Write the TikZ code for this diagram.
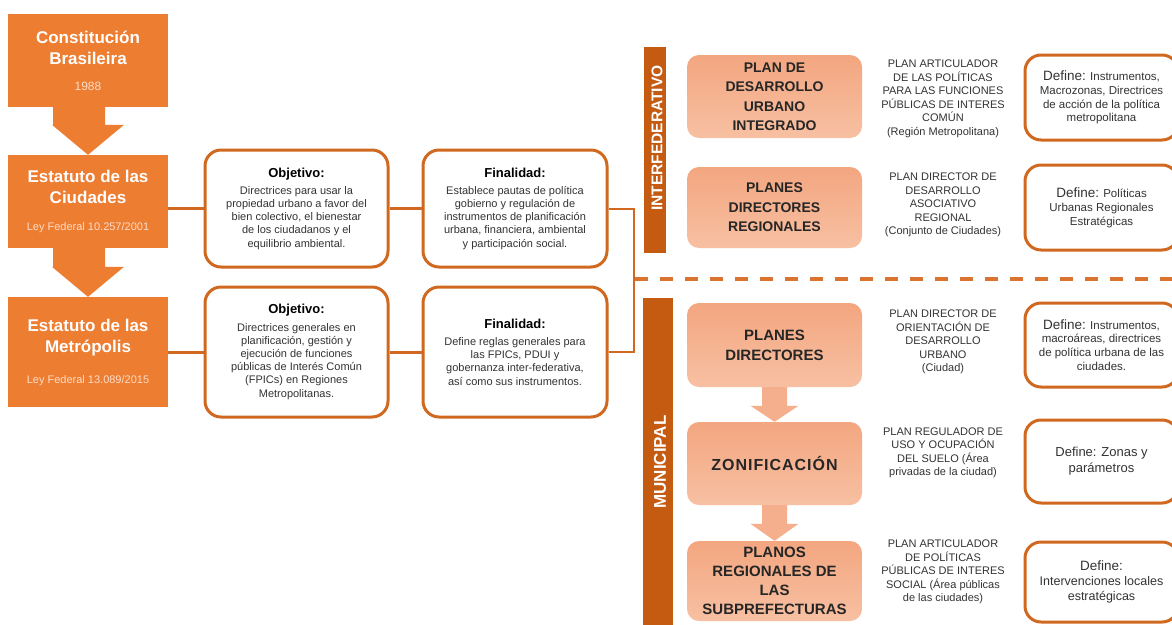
\documentclass[tikz,border=0pt]{standalone}
\usepackage{fontspec}
\setmainfont{Liberation Sans}
\usetikzlibrary{calc}

\definecolor{lawfill}{HTML}{ED7D31}
\definecolor{edge}{HTML}{D0691F}
\definecolor{bandfill}{HTML}{C55A11}
\definecolor{dashcol}{HTML}{DA7230}
\definecolor{peach}{HTML}{FBDCC8}
\definecolor{salmonTop}{HTML}{F3A680}
\definecolor{salmonBot}{HTML}{F7C0A2}
\definecolor{stepfill}{HTML}{F5AF8C}
\definecolor{bodytext}{HTML}{333333}

% block arrow between two stacked nodes:
% from, to, shaft left, shaft right, head half width, head length, colour
\newcommand{\blockarrow}[7]{%
  \fill[#7] ($(#1.south)+(#3,0)$) -- ($(#1.south)+(#4,0)$)
    -- ($(#2.north)+(#4,-#6)$) -- ($(#2.north)+(#5,-#6)$)
    -- (#2.north)
    -- ($(#2.north)+(-#5,-#6)$) -- ($(#2.north)+(#3,-#6)$) -- cycle;}

\tikzset{
  lawbox/.style={fill=lawfill, text=white, align=center, inner sep=0pt,
    minimum width=160, font=\fontsize{17}{21}\selectfont\bfseries},
  infobox/.style={draw=edge, line width=3pt, rounded corners=16pt, fill=white,
    align=center, inner sep=0pt, text=bodytext,
    font=\fontsize{11}{13.2}\selectfont},
  planbox/.style={rounded corners=12pt, top color=salmonTop, bottom color=salmonBot,
    align=center, inner sep=0pt, minimum width=175, text=black!85},
  desc/.style={align=center, inner sep=0pt, text=bodytext,
    font=\fontsize{11}{13.5}\selectfont},
  defbox/.style={infobox, minimum width=153, font=\fontsize{11.5}{13.8}\selectfont},
  band/.style={fill=bandfill, inner sep=0pt},
  bandtext/.style={text=white, rotate=90, inner sep=0pt},
  link/.style={draw=edge, line width=3pt},
  bracket/.style={draw=edge, line width=2pt},
}

\newcommand{\headA}[1]{{\color{black}\fontsize{13}{15}\selectfont\bfseries #1}}
\newcommand{\defword}{{\fontsize{13.5}{15}\selectfont Define:}}

\begin{document}
\begin{tikzpicture}[x=1pt,y=-1pt]
\useasboundingbox (0,0) rectangle (1172,624);
\fill[white] (0,0) rectangle (1172,624);

% ---------- legal framework column ----------
\node[lawbox, minimum height=93] (cons) at (88,60.5)
  {Constitución\\Brasileira\\[5pt]{\fontsize{12}{14}\selectfont\mdseries\color{peach}1988}};
\node[lawbox, minimum height=93] (city) at (88,201.5)
  {Estatuto de las\\Ciudades\\[6pt]{\fontsize{11}{13}\selectfont\mdseries\color{peach}Ley Federal 10.257/2001}};
\node[lawbox, minimum height=110] (metro) at (88,352)
  {Estatuto de las\\Metrópolis\\[10pt]{\fontsize{11}{13}\selectfont\mdseries\color{peach}Ley Federal 13.089/2015}};

\blockarrow{cons}{city}{-35}{17}{36}{30}{lawfill}
\blockarrow{city}{metro}{-35}{17}{36}{30}{lawfill}

% ---------- objectives and purposes ----------
\node[infobox, minimum width=183, minimum height=117] (obj1) at (296.5,208.5)
  {\headA{Objetivo:}\\[4pt]Directrices para usar la\\propiedad urbano a favor del\\bien colectivo, el bienestar\\de los ciudadanos y el\\equilibrio ambiental.};
\node[infobox, minimum width=184, minimum height=117] (fin1) at (515,208.5)
  {\headA{Finalidad:}\\[4pt]Establece pautas de política\\gobierno y regulación de\\instrumentos de planificación\\urbana, financiera, ambiental\\y participación social.};
\node[infobox, minimum width=183, minimum height=130] (obj2) at (296.5,352)
  {\headA{Objetivo:}\\[4pt]Directrices generales en\\planificación, gestión y\\ejecución de funciones\\públicas de Interés Común\\(FPICs) en Regiones\\Metropolitanas.};
\node[infobox, minimum width=184, minimum height=130] (fin2) at (515,352)
  {\headA{Finalidad:}\\[4pt]Define reglas generales para\\las FPICs, PDUI y\\gobernanza inter-federativa,\\así como sus instrumentos.};

\draw[link] (obj1.west -| city.east) -- (obj1.west);
\draw[link] (obj1.east) -- (fin1.west);
\draw[link] (metro.east) -- (obj2.west);
\draw[link] (obj2.east) -- (fin2.west);
\draw[bracket] (fin1.east) -- ++(25,0) |- (fin2.east);

% ---------- level bands ----------
\node[band, rotate=90, minimum width=206, minimum height=22] (intf) at (655,150) {};
\node[bandtext, font=\fontsize{15.5}{17}\selectfont\bfseries] (intftxt) at (657,138) {INTERFEDERATIVO};
\node[band, rotate=90, minimum width=332, minimum height=30] (muni) at (658,464) {};
\node[bandtext, font=\fontsize{17}{19}\selectfont\bfseries] (munitxt) at (660,462) {MUNICIPAL};

\coordinate (dashL) at (635,279);
\coordinate (dashR) at (1172,279);
\draw[dashcol, line width=4pt, dash pattern=on 13pt off 12pt] (dashL) -- (dashR);

% ---------- plans ----------
\node[planbox, minimum height=83, font=\fontsize{14}{19.5}\selectfont\bfseries] (pdui) at (774.5,96.5)
  {PLAN DE\\DESARROLLO\\URBANO\\INTEGRADO};
\node[planbox, minimum height=81, font=\fontsize{14}{19.5}\selectfont\bfseries] (pdr) at (774.5,207.5)
  {PLANES\\DIRECTORES\\REGIONALES};
\node[planbox, minimum height=84, font=\fontsize{15}{20}\selectfont\bfseries] (pd) at (774.5,345)
  {PLANES\\DIRECTORES};
\node[planbox, minimum height=83, font=\fontsize{16}{20}\selectfont\bfseries] (zon) at (774.5,463.5)
  {\addfontfeature{LetterSpace=6}ZONIFICACIÓN};
\node[planbox, minimum height=80, font=\fontsize{15}{19}\selectfont\bfseries] (plr) at (774.5,581)
  {PLANOS\\REGIONALES DE\\LAS\\SUBPREFECTURAS};

\blockarrow{pd}{zon}{-12.5}{12.5}{24}{16}{stepfill}
\blockarrow{zon}{plr}{-12.5}{12.5}{24}{17}{stepfill}

% ---------- plan descriptions ----------
\node[desc] (d1) at (943,99)
  {PLAN ARTICULADOR\\DE LAS POLÍTICAS\\PARA LAS FUNCIONES\\PÚBLICAS DE INTERES\\COMÚN\\(Región Metropolitana)};
\node[desc] (d2) at (943,205)
  {PLAN DIRECTOR DE\\DESARROLLO\\ASOCIATIVO\\REGIONAL\\(Conjunto de Ciudades)};
\node[desc] (d3) at (943,342)
  {PLAN DIRECTOR DE\\ORIENTACIÓN DE\\DESARROLLO\\URBANO\\(Ciudad)};
\node[desc] (d4) at (943,453)
  {PLAN REGULADOR DE\\USO Y OCUPACIÓN\\DEL SUELO (Área\\privadas de la ciudad)};
\node[desc] (d5) at (943,572)
  {PLAN ARTICULADOR\\DE POLÍTICAS\\PÚBLICAS DE INTERES\\SOCIAL (Área públicas\\de las ciudades)};

% ---------- what each plan defines ----------
\node[defbox, minimum height=85] (def1) at (1101.5,97.5)
  {\defword{} Instrumentos,\\Macrozonas, Directrices\\de acción de la política\\metropolitana};
\node[defbox, minimum height=85] (def2) at (1101.5,207.5)
  {\defword{} Políticas\\Urbanas Regionales\\Estratégicas};
\node[defbox, minimum height=84] (def3) at (1101.5,345)
  {\defword{} Instrumentos,\\macroáreas, directrices\\de política urbana de las\\ciudades.};
\node[defbox, minimum height=83, font=\fontsize{13}{16}\selectfont] (def4) at (1101.5,461.5)
  {Define: Zonas y\\parámetros};
\node[defbox, minimum height=80, font=\fontsize{12.5}{15}\selectfont] (def5) at (1101.5,582)
  {\defword\\Intervenciones locales\\estratégicas};
\end{tikzpicture}
\end{document}
